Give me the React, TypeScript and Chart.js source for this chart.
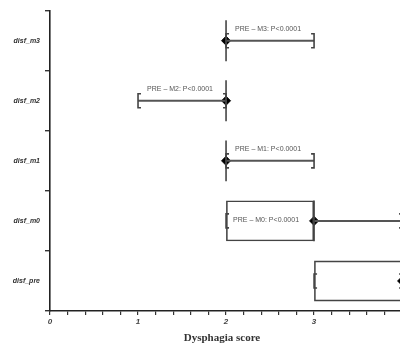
import React, { useEffect, useRef } from 'react';
import { Chart, registerables } from 'chart.js';

Chart.register(...registerables);

// ---- data ----
const categories = ['disf_m3', 'disf_m2', 'disf_m1', 'disf_m0', 'disf_pre'];
const mins = [2, 1, 2, 2, 3];
const q1s = [2, 2, 2, 2, 3];
const medians = [2, 2, 2, 3, 4];
const q3s = [2, 2, 2, 3, 4];
const maxs = [3, 2, 3, 4, 4];
const means = [2, 2, 2, 3, 4];
const pLabels = ['PRE – M3: P<0.0001', 'PRE – M2: P<0.0001', 'PRE – M1: P<0.0001', 'PRE – M0: P<0.0001', ''];
const xTickLabels = ['0', '1', '2', '3'];
const xTitle = 'Dysphagia score';

const boxPlugin = {
  id: 'boxExtras',
  afterDatasetsDraw(chart: any) {
    const ctx = chart.ctx;
    const xs = chart.scales.x;
    const meta = chart.getDatasetMeta(0);
    ctx.save();
    categories.forEach((_, i) => {
      const el = meta.data[i];
      if (!el) return;
      const cy = el.y;
      const h = el.height;
      const top = cy - h / 2;
      const bot = cy + h / 2;
      const pMin = xs.getPixelForValue(mins[i]);
      const pQ1 = xs.getPixelForValue(q1s[i]);
      const pMed = xs.getPixelForValue(medians[i]);
      const pQ3 = xs.getPixelForValue(q3s[i]);
      const pMax = xs.getPixelForValue(maxs[i]);
      // whiskers
      ctx.strokeStyle = '#555';
      ctx.lineWidth = 2;
      ctx.beginPath();
      ctx.moveTo(pMin, cy);
      ctx.lineTo(pQ1, cy);
      ctx.moveTo(pQ3, cy);
      ctx.lineTo(pMax, cy);
      ctx.stroke();
      // caps
      const capH = 7;
      const serif = 3;
      ctx.lineWidth = 1.6;
      ctx.strokeStyle = '#444';
      ctx.beginPath();
      ctx.moveTo(pMin + serif, cy - capH);
      ctx.lineTo(pMin, cy - capH);
      ctx.lineTo(pMin, cy + capH);
      ctx.lineTo(pMin + serif, cy + capH);
      ctx.moveTo(pMax - serif, cy - capH);
      ctx.lineTo(pMax, cy - capH);
      ctx.lineTo(pMax, cy + capH);
      ctx.lineTo(pMax - serif, cy + capH);
      ctx.stroke();
      // median
      ctx.strokeStyle = '#444';
      ctx.lineWidth = 1.6;
      ctx.beginPath();
      ctx.moveTo(pMed, top);
      ctx.lineTo(pMed, bot);
      ctx.stroke();
      // annotation
      if (pLabels[i]) {
        ctx.fillStyle = '#555';
        ctx.font = '7px "Liberation Sans", Arial, sans-serif';
        ctx.textAlign = 'center';
        ctx.textBaseline = 'middle';
        if (q3s[i] > q1s[i]) {
          ctx.fillText(pLabels[i], (pQ1 + pQ3) / 2 - 4, cy - 1);
        } else {
          ctx.fillText(pLabels[i], (pMin + pMax) / 2 - 2, cy - 12);
        }
      }
    });
    ctx.restore();
  },
  afterDraw(chart: any) {
    const ctx = chart.ctx;
    ctx.save();
    ctx.fillStyle = '#333';
    ctx.font = 'bold 11px "Liberation Serif", "DejaVu Serif", serif';
    ctx.textAlign = 'center';
    ctx.textBaseline = 'middle';
    ctx.fillText(xTitle, 222, 338);
    ctx.restore();
  },
};

export default function App() {
  const ref = useRef<HTMLCanvasElement | null>(null);
  useEffect(() => {
    if (!ref.current) return;
    const chart = new Chart(ref.current, {
      type: 'bar',
      data: {
        labels: categories,
        datasets: [
          {
            type: 'bar',
            data: categories.map((_, i) => [q1s[i], q3s[i]]) as any,
            backgroundColor: 'rgba(255,255,255,0)',
            borderColor: '#444',
            borderWidth: 1.6,
            borderSkipped: false,
            barPercentage: 0.68,
            categoryPercentage: 1,
          } as any,
          {
            type: 'scatter',
            data: categories.map((c, i) => ({ x: means[i], y: c })) as any,
            pointStyle: 'rectRot',
            pointRadius: 4.5,
            backgroundColor: '#000',
            borderColor: '#000',
            borderWidth: 1,
            xAxisID: 'x',
            yAxisID: 'y',
          } as any,
        ],
      },
      options: {
        indexAxis: 'y',
        responsive: false,
        devicePixelRatio: 1,
        animation: false,
        layout: { padding: { top: 10.7, left: 0, right: 0, bottom: 0 } },
        plugins: { legend: { display: false }, tooltip: { enabled: false } },
        scales: {
          x: {
            type: 'linear',
            min: 0,
            max: 4.3,
            afterFit: (s: any) => { s.height = 48; },
            afterBuildTicks: (s: any) => {
              const t = [];
              for (let k = 0; k <= 21; k++) t.push({ value: k * 0.2 });
              s.ticks = t;
            },
            ticks: {
              autoSkip: false,
              maxRotation: 0,
              padding: 2,
              color: '#444',
              font: { family: '"Liberation Sans", Arial, sans-serif', size: 8, style: 'italic', weight: 'bold' },
              callback: (v: any) => {
                const r = Math.round(v);
                return Math.abs(v - r) < 1e-6 && xTickLabels[r] !== undefined ? xTickLabels[r] : '';
              },
            },
            grid: { display: true, drawOnChartArea: false, drawTicks: true, tickLength: 4, color: '#333', lineWidth: 1.2 },
            border: { display: true, color: '#222', width: 1.6 },
          },
          y: {
            type: 'category',
            offset: true,
            afterFit: (s: any) => { s.width = 50; },
            ticks: {
              padding: 5,
              color: '#333',
              font: { family: '"Liberation Sans", Arial, sans-serif', size: 7, style: 'italic', weight: 'bold' },
            },
            grid: { display: true, offset: true, drawOnChartArea: false, drawTicks: true, tickLength: 5, color: '#333', lineWidth: 1.4 },
            border: { display: true, color: '#222', width: 1.6 },
          },
        },
      } as any,
      plugins: [boxPlugin],
    });
    return () => chart.destroy();
  }, []);
  return (
    <div style={{ position: 'fixed', left: 0, top: 0, width: 400, height: 359, overflow: 'hidden', background: '#fff' }}>
      <canvas ref={ref} width={434} height={359} style={{ display: 'block' }} />
    </div>
  );
}
